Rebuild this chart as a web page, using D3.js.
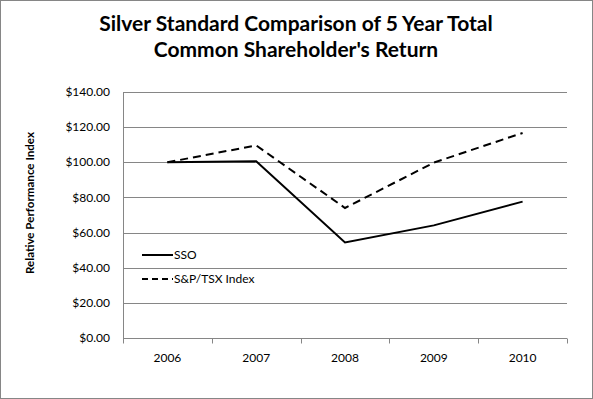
<!DOCTYPE html>
<html>
<head>
<meta charset="utf-8">
<script src="https://cdn.jsdelivr.net/npm/d3@7"></script>
<style>
  body { margin: 0; background: #fff; }
  svg text { font-family: Lato, "Liberation Sans", sans-serif; }
</style>
</head>
<body>
<svg id="chart" width="593" height="399"></svg>
<script>
var years = ["2006", "2007", "2008", "2009", "2010"];
var sso = [100, 100.6, 54.4, 64.1, 77.6];
var tsx = [100, 109.6, 74.0, 99.8, 116.7];
var yTicks = [0, 20, 40, 60, 80, 100, 120, 140];
var seriesNames = ["SSO", "S&P/TSX Index"];

var svg = d3.select("#chart"),
    margin = {top: 92, right: 26, bottom: 61, left: 123},
    width = 593 - margin.left - margin.right,
    height = 399 - margin.top - margin.bottom;

// outer frame
svg.append("rect")
    .attr("x", 0.5).attr("y", 0.5)
    .attr("width", 592).attr("height", 398)
    .attr("fill", "#fff")
    .attr("stroke", "#868686");

svg.append("text")
    .attr("x", 296).attr("y", 31)
    .attr("text-anchor", "middle")
    .style("font-size", "21px").style("font-weight", "bold")
    .text("Silver Standard Comparison of 5 Year Total");
svg.append("text")
    .attr("x", 296).attr("y", 57)
    .attr("text-anchor", "middle")
    .style("font-size", "21px").style("font-weight", "bold")
    .text("Common Shareholder's Return");

var g = svg.append("g").attr("transform", "translate(" + margin.left + "," + margin.top + ")");

var x = d3.scaleBand().domain(years).range([0, width]);
var y = d3.scaleLinear().domain([0, 140]).range([height, 0]);

// gridlines
g.selectAll(".grid")
    .data(yTicks)
    .enter().append("line")
    .attr("x1", 0).attr("x2", width)
    .attr("y1", function(d) { return Math.round(y(d)) + 0.5; })
    .attr("y2", function(d) { return Math.round(y(d)) + 0.5; })
    .attr("stroke", "#868686");

// y labels
g.selectAll(".ylab")
    .data(yTicks)
    .enter().append("text")
    .attr("x", -13)
    .attr("y", function(d) { return y(d); })
    .attr("dy", "0.35em")
    .attr("text-anchor", "end")
    .style("font-size", "12px")
    .text(function(d) { return "$" + d3.format(".2f")(d); });

// y axis line
g.append("line")
    .attr("x1", 0.5).attr("x2", 0.5)
    .attr("y1", 0).attr("y2", height)
    .attr("stroke", "#868686");

// x axis
var xAxis = g.append("g")
    .attr("transform", "translate(0," + (Math.round(height) + 0.5) + ")");
xAxis.append("line")
    .attr("x1", 0).attr("x2", width)
    .attr("stroke", "#868686");
var edges = years.map(function(d) { return x(d); }).concat([width]);
xAxis.selectAll(".tick")
    .data(edges)
    .enter().append("line")
    .attr("x1", function(d) { return Math.round(d) + 0.5; })
    .attr("x2", function(d) { return Math.round(d) + 0.5; })
    .attr("y1", 0).attr("y2", 5)
    .attr("stroke", "#868686");
xAxis.selectAll(".xlab")
    .data(years)
    .enter().append("text")
    .attr("x", function(d) { return x(d) + x.bandwidth() / 2; })
    .attr("y", 23)
    .attr("text-anchor", "middle")
    .style("font-size", "12px")
    .text(function(d) { return d; });

// axis title
svg.append("text")
    .attr("transform", "translate(34,203) rotate(-90)")
    .attr("text-anchor", "middle")
    .style("font-size", "11.6px").style("font-weight", "bold")
    .text("Relative Performance Index");

var line = d3.line()
    .x(function(d, i) { return x(years[i]) + x.bandwidth() / 2; })
    .y(function(d) { return y(d); });

g.append("path")
    .attr("d", line(tsx))
    .attr("fill", "none")
    .attr("stroke", "#000")
    .attr("stroke-width", 2)
    .attr("stroke-dasharray", "8,5");

g.append("path")
    .attr("d", line(sso))
    .attr("fill", "none")
    .attr("stroke", "#000")
    .attr("stroke-width", 2);

// legend
var legend = svg.selectAll(".legend")
    .data(seriesNames)
    .enter().append("g")
    .attr("transform", function(d, i) { return "translate(142," + (255 + i * 24) + ")"; });
legend.append("line")
    .attr("x1", 0).attr("x2", 31)
    .attr("stroke", "#000")
    .attr("stroke-width", 2)
    .attr("stroke-dasharray", function(d, i) { return i ? "6,4" : null; });
legend.append("text")
    .attr("x", 32)
    .attr("dy", "0.35em")
    .style("font-size", "12px")
    .text(function(d) { return d; });
</script>
</body>
</html>
